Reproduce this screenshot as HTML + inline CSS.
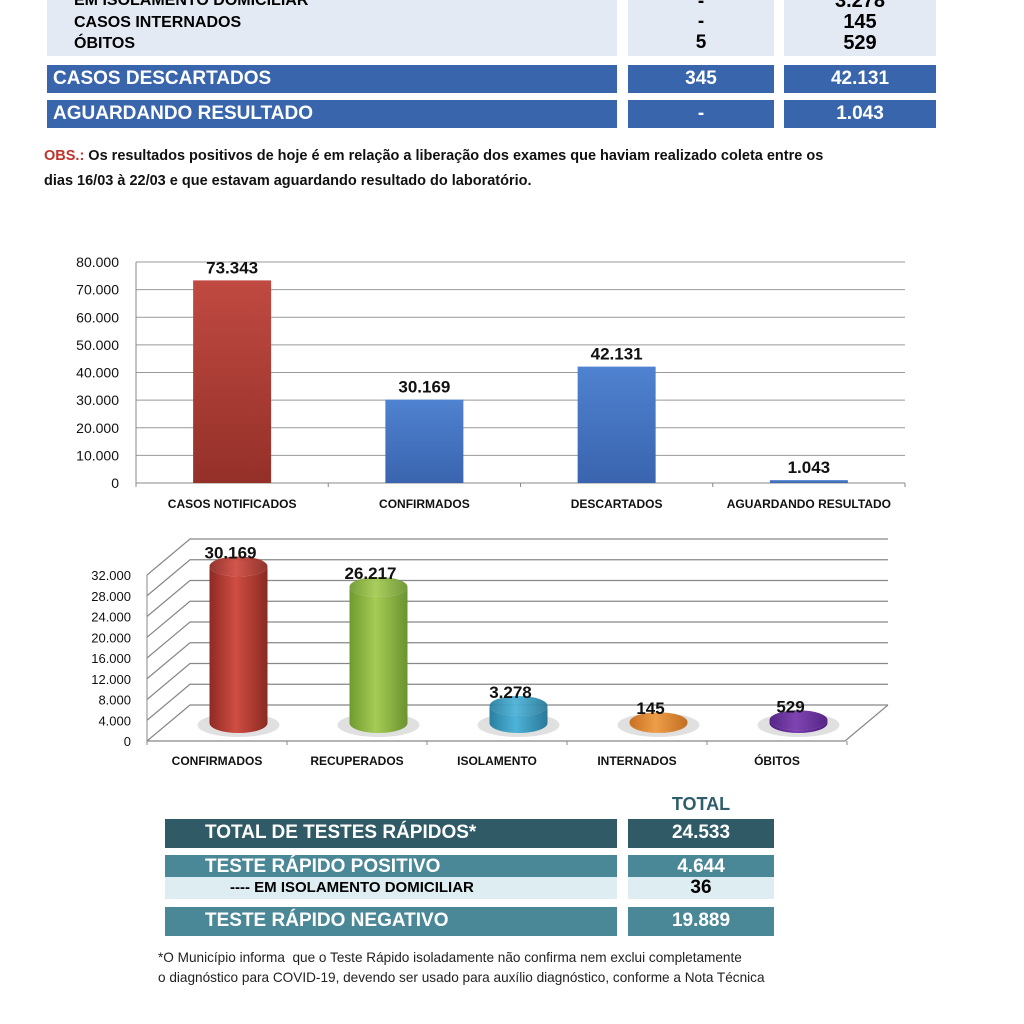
<!DOCTYPE html>
<html><head><meta charset="utf-8"><style>
body{margin:0;width:1024px;height:1024px;background:#fff;position:relative;overflow:hidden;font-family:"Liberation Sans",sans-serif}
.a{position:absolute;box-sizing:border-box}
.w{color:#fff;font-weight:bold}
</style></head><body>
<div class="a" style="left:47px;top:0;width:570px;height:56px;background:#e4eaf3"></div>
<div class="a" style="left:628px;top:0;width:146px;height:56px;background:#e4eaf3"></div>
<div class="a" style="left:784px;top:0;width:152px;height:56px;background:#e4eaf3"></div>
<div class="a" style="left:74px;top:-8px;font-size:16px;font-weight:bold">EM ISOLAMENTO DOMICILIAR</div>
<div class="a" style="left:74px;top:14px;font-size:16px;font-weight:bold">CASOS INTERNADOS</div>
<div class="a" style="left:74px;top:35px;font-size:16px;font-weight:bold">ÓBITOS</div>
<div class="a" style="left:628px;width:146px;text-align:center;top:-9px;font-size:19px;font-weight:bold">-</div>
<div class="a" style="left:628px;width:146px;text-align:center;top:11px;font-size:19px;font-weight:bold">-</div>
<div class="a" style="left:628px;width:146px;text-align:center;top:32px;font-size:19px;font-weight:bold">5</div>
<div class="a" style="left:784px;width:152px;text-align:center;top:-10px;font-size:20px;font-weight:bold">3.278</div>
<div class="a" style="left:784px;width:152px;text-align:center;top:11px;font-size:20px;font-weight:bold">145</div>
<div class="a" style="left:784px;width:152px;text-align:center;top:32px;font-size:20px;font-weight:bold">529</div>

<div class="a w" style="left:47px;top:65px;width:570px;height:28px;background:#3965ad;font-size:19px;padding:3px 6px">CASOS DESCARTADOS</div>
<div class="a w" style="left:628px;top:65px;width:146px;height:28px;background:#3965ad;font-size:19px;text-align:center;padding-top:3px">345</div>
<div class="a w" style="left:784px;top:65px;width:152px;height:28px;background:#3965ad;font-size:19px;text-align:center;padding-top:3px">42.131</div>
<div class="a w" style="left:47px;top:100px;width:570px;height:28px;background:#3965ad;font-size:19px;padding:3px 6px">AGUARDANDO RESULTADO</div>
<div class="a w" style="left:628px;top:100px;width:146px;height:28px;background:#3965ad;font-size:19px;text-align:center;padding-top:3px">-</div>
<div class="a w" style="left:784px;top:100px;width:152px;height:28px;background:#3965ad;font-size:19px;text-align:center;padding-top:3px">1.043</div>

<div class="a" style="left:44px;top:144px;width:920px;font-size:14.5px;font-weight:bold;line-height:25px;color:#111"><span style="color:#c0322c">OBS.:</span> Os resultados positivos de hoje é em relação a liberação dos exames que haviam realizado coleta entre os<br>dias 16/03 à 22/03 e que estavam aguardando resultado do laboratório.</div>

<svg class="a" style="left:0;top:0" width="1024" height="1024" id="svg">
<defs>
<linearGradient id="gr" x1="0" y1="0" x2="0" y2="1"><stop offset="0" stop-color="#c04a42"/><stop offset="1" stop-color="#943028"/></linearGradient>
<linearGradient id="gb" x1="0" y1="0" x2="0" y2="1"><stop offset="0" stop-color="#4f82d0"/><stop offset="1" stop-color="#3a64ae"/></linearGradient>
<linearGradient id="c0" x1="0" x2="1"><stop offset="0" stop-color="#8e2a24"/><stop offset=".45" stop-color="#d04d42"/><stop offset="1" stop-color="#8a2a22"/></linearGradient>
<linearGradient id="c1" x1="0" x2="1"><stop offset="0" stop-color="#6f9a30"/><stop offset=".45" stop-color="#a6cc55"/><stop offset="1" stop-color="#6a9230"/></linearGradient>
<linearGradient id="c2" x1="0" x2="1"><stop offset="0" stop-color="#2a7fa0"/><stop offset=".45" stop-color="#4db3d8"/><stop offset="1" stop-color="#2a7898"/></linearGradient>
<linearGradient id="c3" x1="0" x2="1"><stop offset="0" stop-color="#c86a18"/><stop offset=".45" stop-color="#ee9a40"/><stop offset="1" stop-color="#c06818"/></linearGradient>
<linearGradient id="c4" x1="0" x2="1"><stop offset="0" stop-color="#4e1c80"/><stop offset=".45" stop-color="#7a3cb0"/><stop offset="1" stop-color="#4e1c80"/></linearGradient>
</defs>
</svg>

<div class="a" style="left:628px;width:146px;text-align:center;top:794px;font-size:18px;font-weight:bold;color:#2f5d6b">TOTAL</div>
<div class="a w" style="left:165px;top:819px;width:452px;height:29px;background:#2f5a66;font-size:19px;padding:3px 0 0 40px">TOTAL DE TESTES RÁPIDOS*</div>
<div class="a w" style="left:628px;top:819px;width:146px;height:29px;background:#2f5a66;font-size:19px;text-align:center;padding-top:3px">24.533</div>
<div class="a w" style="left:165px;top:855px;width:452px;height:22px;background:#4a8898;font-size:19px;padding:0 0 0 40px;line-height:24px">TESTE RÁPIDO POSITIVO</div>
<div class="a w" style="left:628px;top:855px;width:146px;height:22px;background:#4a8898;font-size:19px;text-align:center;line-height:24px">4.644</div>
<div class="a" style="left:165px;top:877px;width:452px;height:22px;background:#deedf2;font-size:15px;font-weight:bold;padding:0 0 0 65px;line-height:22px">---- EM ISOLAMENTO DOMICILIAR</div>
<div class="a" style="left:628px;top:877px;width:146px;height:22px;background:#deedf2;font-size:19px;font-weight:bold;text-align:center;line-height:22px">36</div>
<div class="a w" style="left:165px;top:907px;width:452px;height:29px;background:#4a8898;font-size:19px;padding:3px 0 0 40px">TESTE RÁPIDO NEGATIVO</div>
<div class="a w" style="left:628px;top:907px;width:146px;height:29px;background:#4a8898;font-size:19px;text-align:center;padding-top:3px">19.889</div>
<div class="a" style="left:158px;top:948px;font-size:13.6px;line-height:20px;color:#222;white-space:nowrap">*O Município informa &nbsp;que o Teste Rápido isoladamente não confirma nem exclui completamente<br>o diagnóstico para COVID-19, devendo ser usado para auxílio diagnóstico, conforme a Nota Técnica</div>

<script>
const cats1=["CASOS NOTIFICADOS","CONFIRMADOS","DESCARTADOS","AGUARDANDO RESULTADO"];
const vals1=[73343,30169,42131,1043];
const labels1=["73.343","30.169","42.131","1.043"];
const ticks1=[0,10000,20000,30000,40000,50000,60000,70000,80000];
const tickLabels1=["0","10.000","20.000","30.000","40.000","50.000","60.000","70.000","80.000"];
const cats2=["CONFIRMADOS","RECUPERADOS","ISOLAMENTO","INTERNADOS","ÓBITOS"];
const vals2=[30169,26217,3278,145,529];
const labels2=["30.169","26.217","3.278","145","529"];
const ticks2=[0,4000,8000,12000,16000,20000,24000,28000,32000];
const tickLabels2=["0","4.000","8.000","12.000","16.000","20.000","24.000","28.000","32.000"];

const svg=document.getElementById('svg');
const NS='http://www.w3.org/2000/svg';
function mk(t,a,txt){const e=document.createElementNS(NS,t);for(const k in a)e.setAttribute(k,a[k]);if(txt!=null)e.textContent=txt;svg.appendChild(e);return e;}

// Chart 1
const X0=136,X1=905,Y0=483,Y1=262;
const y1=v=>Y0-(v/80000)*(Y0-Y1);
const bw=(X1-X0)/cats1.length;
ticks1.forEach((t,i)=>{
  const g=mk('line',{x1:X0,x2:X1,y1:y1(t),y2:y1(t),stroke:i==0?'#888':'#999','stroke-width':1});
  
  const l=mk('text',{x:X0-17,y:y1(t)+5,'text-anchor':'end','font-size':14,fill:'#111'},tickLabels1[i]);
  
});
mk('line',{x1:X0,x2:X0,y1:Y1,y2:Y0+4,stroke:'#888'});
cats1.forEach((c,i)=>{
  const cx=X0+bw*(i+0.5);
  mk('line',{x1:X0+bw*(i+1),x2:X0+bw*(i+1),y1:Y0,y2:Y0+4,stroke:'#888'});
  const r=mk('rect',{x:cx-39,y:y1(vals1[i]),width:78,height:Y0-y1(vals1[i]),fill:i==0?'url(#gr)':'url(#gb)'});
  
  
  const v=mk('text',{x:cx,y:y1(vals1[i])-7,'text-anchor':'middle','font-size':17,'font-weight':'bold',fill:'#111'},labels1[i]);
  
  const cl=mk('text',{x:cx,y:508,'text-anchor':'middle','font-size':12,'font-weight':'bold',fill:'#111'},c);
  
});

// Chart 2 (3D)
const AX=147,AY=741,DX=43,DY=-36,SP=140,XR=845;
const s2=20.75/4000;
const y2=v=>AY-v*s2;
ticks2.forEach((t,i)=>{
  const yy=y2(t);
  mk('polyline',{points:`${AX},${yy} ${AX+DX},${yy+DY} ${XR+DX},${yy+DY}`,fill:'none',stroke:'#888','stroke-width':1.2});
  const l=mk('text',{x:AX-16,y:yy+5,'text-anchor':'end','font-size':13,fill:'#111'},tickLabels2[i]);
  
});
mk('polyline',{points:`${AX},${AY} ${XR},${AY} ${XR+DX},${AY+DY}`,fill:'none',stroke:'#888','stroke-width':1.2});
mk('line',{x1:AX,x2:AX,y1:y2(32000),y2:AY+4,stroke:'#888'});
cats2.forEach((c,i)=>{
  const fx=AX+SP*(i+0.5);
  mk('line',{x1:AX+SP*(i+1),x2:AX+SP*(i+1),y1:AY,y2:AY+4,stroke:'#888'});
  const cx=fx+DX/2, base=AY+DY/2, top=base-vals2[i]*s2, rx=29, ry=10;
  mk('ellipse',{cx:cx,cy:base+2,rx:rx+12,ry:ry+2,fill:'#bbb',opacity:.45});
  const g=mk('path',{d:`M${cx-rx},${top} L${cx-rx},${base} A${rx},${ry} 0 0 0 ${cx+rx},${base} L${cx+rx},${top} A${rx},${ry} 0 0 1 ${cx-rx},${top}Z`,fill:`url(#c${i})`});
  
  mk('ellipse',{cx:cx,cy:top,rx:rx,ry:ry,fill:`url(#c${i})`,opacity:.95});
  const v=mk('text',{x:cx-8,y:top-8,'text-anchor':'middle','font-size':17,'font-weight':'bold',fill:'#111'},labels2[i]);
  
  const cl=mk('text',{x:fx,y:765,'text-anchor':'middle','font-size':12,'font-weight':'bold',fill:'#111'},c);
  
});
</script>
</body></html>
